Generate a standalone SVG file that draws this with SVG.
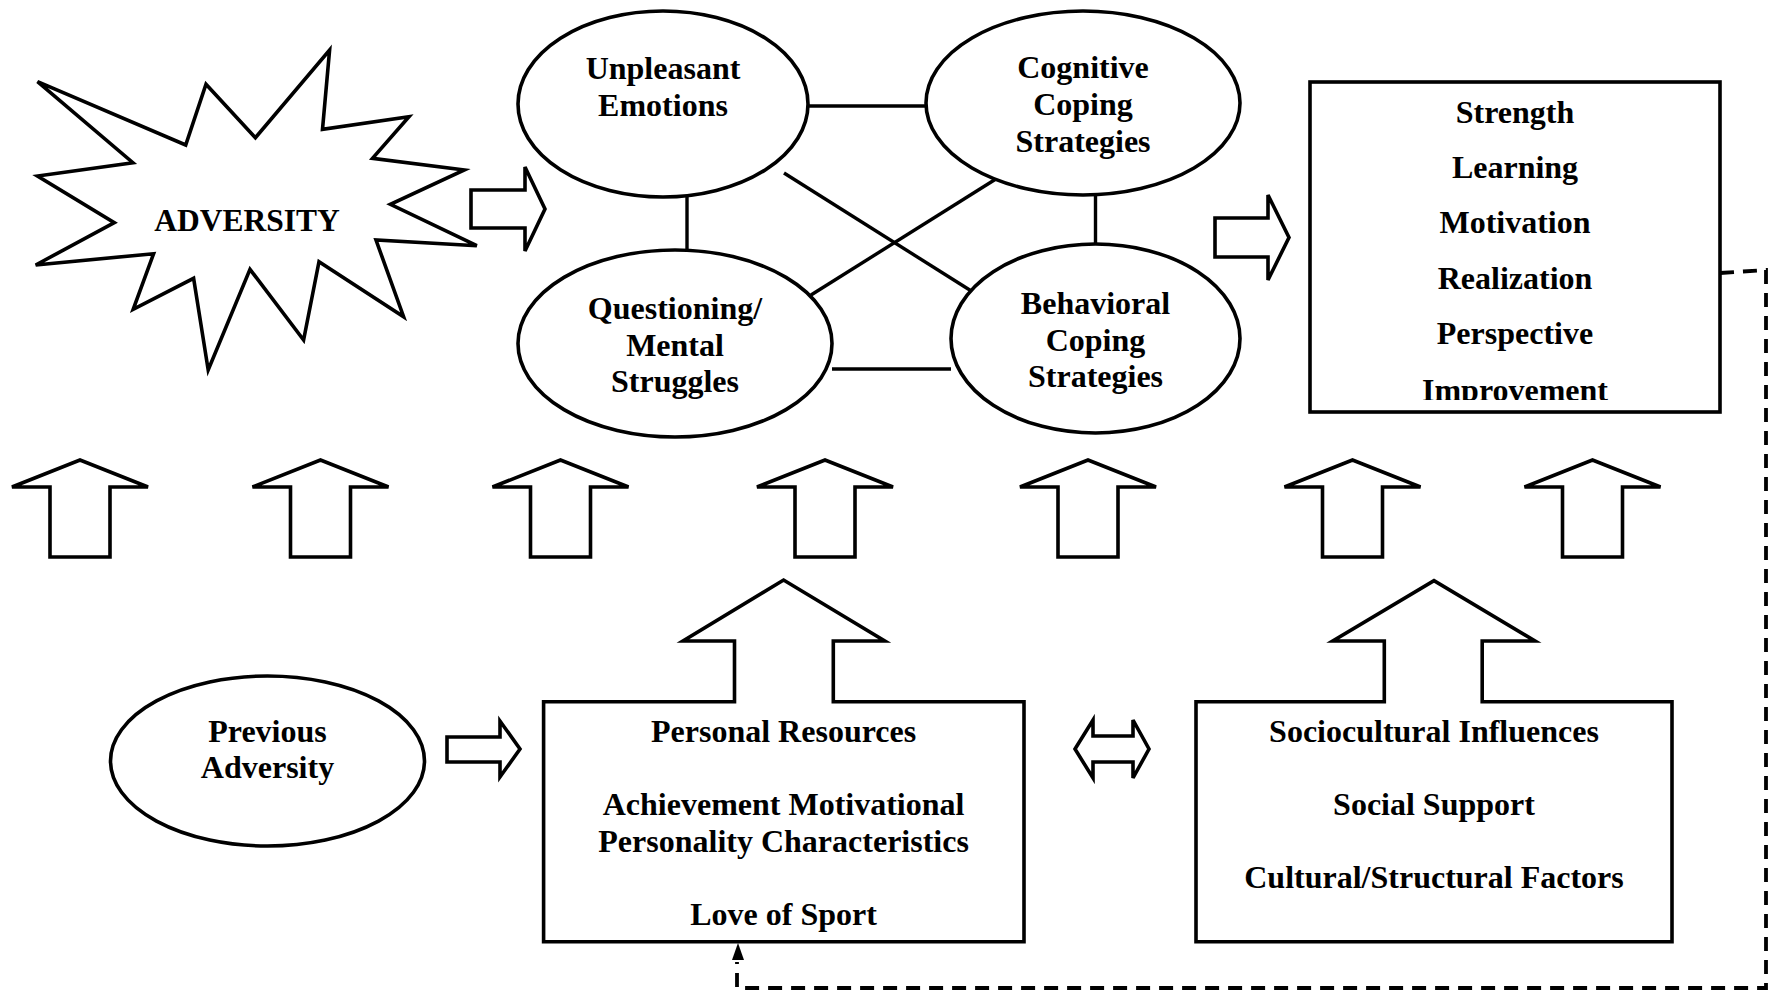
<svg xmlns="http://www.w3.org/2000/svg" width="1771" height="992" viewBox="0 0 1771 992">
<style>
.s{fill:#fff;stroke:#000;stroke-width:3.6;stroke-linejoin:miter}
.ln{stroke:#000;stroke-width:3.4;fill:none}
.d{stroke:#000;stroke-width:3.8;fill:none;stroke-dasharray:14 9}
text{font-family:"Liberation Serif","Times New Roman",serif;font-weight:bold;font-size:32px;text-anchor:middle;fill:#000}
</style>
<defs>
<path id="up" d="M-30,557 L-30,487 L-68,487 L0,460 L68,487 L30,487 L30,557 Z"/>
<clipPath id="outclip"><rect x="1310" y="82" width="410" height="318"/></clipPath>
</defs>
<rect width="1771" height="992" fill="#fff"/>

<g id="connectors">
<line class="ln" x1="808" y1="106" x2="926" y2="106"/>
<line class="ln" x1="687" y1="197" x2="687" y2="250"/>
<line class="ln" x1="1095.5" y1="195" x2="1095.5" y2="244"/>
<line class="ln" x1="832" y1="369" x2="951" y2="369"/>
<line class="ln" x1="784" y1="173" x2="974.5" y2="293"/>
<line class="ln" x1="811" y1="295" x2="997.5" y2="178"/>
<path class="s" d="M471,190 L525,190 L525,167 L545,209 L525,251 L525,228 L471,228 Z"/>
<path class="s" d="M1215,218 L1268,218 L1268,195 L1289,237.5 L1268,280 L1268,257 L1215,257 Z"/>
<path class="s" d="M447,737 L500,737 L500,721 L520,749 L500,777 L500,762 L447,762 Z"/>
<path class="s" d="M1075,749 L1093,720 L1093,736 L1133,736 L1133,720 L1149,749 L1133,778 L1133,762 L1093,762 L1093,778 Z"/>
<use href="#up" class="s" transform="translate(80,0)"/>
<use href="#up" class="s" transform="translate(320.5,0)"/>
<use href="#up" class="s" transform="translate(560.5,0)"/>
<use href="#up" class="s" transform="translate(825,0)"/>
<use href="#up" class="s" transform="translate(1088,0)"/>
<use href="#up" class="s" transform="translate(1352.5,0)"/>
<use href="#up" class="s" transform="translate(1592.5,0)"/>
<path class="d" d="M1720,273 L1766,270 L1766,988 L737,988 L737,962"/>
<polygon points="738,943 732,960 744,960" fill="#000"/>
</g>

<g id="adversity">
<polygon class="s" points="37.5,81.7 185.7,145 206,84.3 255.4,137.7 329.6,50 322.5,129.3 409,116.7 372.5,158.3 464.3,170 390.4,204.3 476.8,245.7 376,240 403.6,316.7 319,261.7 303.6,340 250,269.3 208.2,370 193.6,278.3 133.2,309.3 153.6,253.7 35.7,265 114.3,222.7 37.5,176 132.9,162.7"/>
<text x="247" y="231" style="font-size:31.5px">ADVERSITY</text>
</g>

<g id="unpleasant">
<ellipse class="s" cx="663" cy="104" rx="145" ry="93"/>
<text x="663" y="79">Unpleasant</text>
<text x="663" y="116">Emotions</text>
</g>

<g id="cognitive">
<ellipse class="s" cx="1083" cy="103" rx="157" ry="92"/>
<text x="1083" y="78">Cognitive</text>
<text x="1083" y="115">Coping</text>
<text x="1083" y="152">Strategies</text>
</g>

<g id="questioning">
<ellipse class="s" cx="675" cy="343.5" rx="157" ry="93.5"/>
<text x="675" y="319">Questioning/</text>
<text x="675" y="356">Mental</text>
<text x="675" y="392">Struggles</text>
</g>

<g id="behavioral">
<ellipse class="s" cx="1095.5" cy="338.5" rx="144.5" ry="94.5"/>
<text x="1095.5" y="314">Behavioral</text>
<text x="1095.5" y="351">Coping</text>
<text x="1095.5" y="387">Strategies</text>
</g>

<g id="outcomes">
<rect class="s" x="1310" y="82" width="410" height="330"/>
<g clip-path="url(#outclip)">
<text x="1515" y="123">Strength</text>
<text x="1515" y="178">Learning</text>
<text x="1515" y="233">Motivation</text>
<text x="1515" y="289">Realization</text>
<text x="1515" y="344">Perspective</text>
<text x="1515" y="401">Improvement</text>
</g>
</g>

<g id="previous">
<ellipse class="s" cx="267.5" cy="761" rx="157" ry="85"/>
<text x="267.5" y="742">Previous</text>
<text x="267.5" y="778">Adversity</text>
</g>

<g id="personal">
<path class="s" d="M543.6,701.7 L734.5,701.7 L734.5,641 L683,641 L783.6,580 L884.8,641 L833.3,641 L833.3,701.7 L1024,701.7 L1024,941.7 L543.6,941.7 Z"/>
<text x="783.6" y="742">Personal Resources</text>
<text x="783.6" y="815">Achievement Motivational</text>
<text x="783.6" y="852">Personality Characteristics</text>
<text x="783.6" y="925">Love of Sport</text>
</g>

<g id="sociocultural">
<path class="s" d="M1196,701.7 L1384.3,701.7 L1384.3,641 L1332.8,641 L1434,580.7 L1535,641 L1482.2,641 L1482.2,701.7 L1672,701.7 L1672,941.7 L1196,941.7 Z"/>
<text x="1434" y="742">Sociocultural Influences</text>
<text x="1434" y="815">Social Support</text>
<text x="1434" y="888">Cultural/Structural Factors</text>
</g>
</svg>
